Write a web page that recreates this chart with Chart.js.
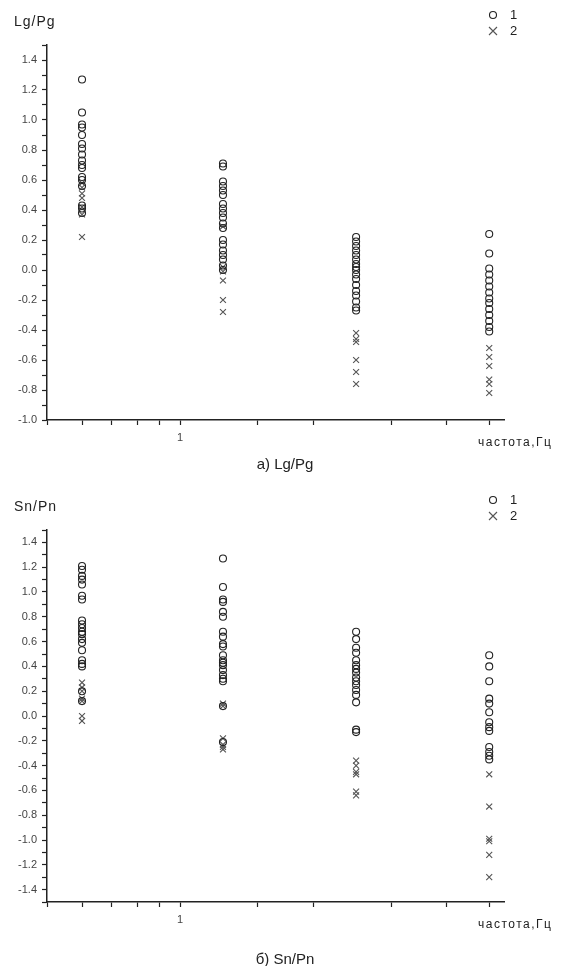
<!DOCTYPE html>
<html>
<head>
<meta charset="utf-8">
<script src="https://cdn.jsdelivr.net/npm/chart.js@4.4.1/dist/chart.umd.min.js"></script>
<style>
  html, body { margin: 0; padding: 0; background: #fff; }
  .panel { position: absolute; left: 0; width: 571px; height: 483px; }
  #panelA { top: 0; }
  #panelB { top: 483px; }
</style>
</head>
<body>
<div class="panel" id="panelA"><canvas id="chartA"></canvas></div>
<div class="panel" id="panelB"><canvas id="chartB"></canvas></div>
<script>
// frequencies of the four measurement columns, Hz
const FREQS = [0.6, 1.25, 2.5, 5];

// а) Lg/Pg — series 1 (circles) and series 2 (crosses), one list per frequency
const lgCircles = [
  [1.27, 1.05, 0.97, 0.95, 0.90, 0.84, 0.81, 0.77, 0.73, 0.70, 0.68, 0.62, 0.60, 0.56, 0.43, 0.41, 0.38],
  [0.71, 0.69, 0.59, 0.56, 0.53, 0.50, 0.44, 0.41, 0.38, 0.35, 0.31, 0.28, 0.20, 0.17, 0.13, 0.10, 0.07, 0.03, 0.00],
  [0.22, 0.19, 0.16, 0.13, 0.10, 0.07, 0.04, 0.02, 0.00, -0.03, -0.06, -0.10, -0.14, -0.17, -0.21, -0.25, -0.27],
  [0.24, 0.11, 0.01, -0.03, -0.07, -0.11, -0.15, -0.19, -0.22, -0.26, -0.30, -0.34, -0.38, -0.41]
];
const lgCrosses = [
  [0.58, 0.55, 0.51, 0.48, 0.42, 0.37, 0.22],
  [0.29, 0.02, -0.01, -0.07, -0.20, -0.28],
  [-0.42, -0.46, -0.48, -0.60, -0.68, -0.76],
  [-0.52, -0.58, -0.64, -0.73, -0.76, -0.82]
];

// б) Sn/Pn
const snCircles = [
  [1.21, 1.18, 1.13, 1.10, 1.06, 0.97, 0.94, 0.77, 0.74, 0.71, 0.68, 0.66, 0.62, 0.59, 0.53, 0.45, 0.42, 0.40, 0.20, 0.12],
  [1.27, 1.04, 0.94, 0.92, 0.84, 0.80, 0.68, 0.64, 0.58, 0.56, 0.49, 0.45, 0.43, 0.41, 0.37, 0.33, 0.30, 0.28, 0.08, -0.21],
  [0.68, 0.62, 0.55, 0.51, 0.45, 0.41, 0.38, 0.35, 0.31, 0.28, 0.25, 0.21, 0.17, 0.11, -0.11, -0.13],
  [0.49, 0.40, 0.28, 0.14, 0.10, 0.03, -0.05, -0.09, -0.12, -0.25, -0.29, -0.32, -0.35]
];
const snCrosses = [
  [0.27, 0.23, 0.20, 0.14, 0.12, 0.00, -0.04],
  [0.10, 0.08, -0.18, -0.23, -0.25, -0.27],
  [-0.36, -0.40, -0.45, -0.47, -0.61, -0.64],
  [-0.47, -0.73, -0.99, -1.01, -1.12, -1.30]
];

const X_MIN = 0.5, X_MAX = 5.4;
const X_TITLE = "частота,Гц";
const SERIES_NAMES = ["1", "2"];

const FONT = "'Liberation Sans', Arial, sans-serif";
const INK = "#222";
const CROSS_INK = "#555";
const TICK_INK = "#444";
const CIRCLE_R = 3.5;
const CROSS_R = 4.2;

function toPoints(cols) {
  const pts = [];
  cols.forEach((vals, i) => vals.forEach(v => pts.push({ x: FREQS[i], y: v })));
  return pts;
}

// y label, legend, x title and caption around the plot
const panelText = {
  id: "panelText",
  afterDraw(chart, args, opts) {
    const ctx = chart.ctx;
    const area = chart.chartArea;
    ctx.save();
    ctx.fillStyle = INK;
    ctx.textBaseline = "middle";

    ctx.font = "14px " + FONT;
    ctx.letterSpacing = "1px";
    ctx.textAlign = "left";
    ctx.fillText(opts.yLabel, 14, area.top - 23);

    // legend: open circle for series 1, cross for series 2
    const lx = 493, ly = area.top - 30;
    ctx.lineWidth = 1.1;
    ctx.strokeStyle = INK;
    ctx.beginPath();
    ctx.arc(lx, ly, CIRCLE_R, 0, Math.PI * 2);
    ctx.stroke();
    ctx.strokeStyle = CROSS_INK;
    const c = 4;
    ctx.beginPath();
    ctx.moveTo(lx - c, ly + 16 - c); ctx.lineTo(lx + c, ly + 16 + c);
    ctx.moveTo(lx - c, ly + 16 + c); ctx.lineTo(lx + c, ly + 16 - c);
    ctx.stroke();
    ctx.font = "13px " + FONT;
    ctx.letterSpacing = "0px";
    ctx.fillText(SERIES_NAMES[0], lx + 17, ly);
    ctx.fillText(SERIES_NAMES[1], lx + 17, ly + 16);

    // axis title
    ctx.font = "12px " + FONT;
    ctx.letterSpacing = "1.5px";
    ctx.fillText(X_TITLE, 478, area.bottom + 23);

    // caption
    ctx.font = "15px " + FONT;
    ctx.letterSpacing = "0px";
    ctx.textAlign = "center";
    ctx.fillText(opts.caption, 285, area.bottom + opts.captionGap);
    ctx.restore();
  }
};

function makeChart(canvasId, circles, crosses, yMin, yMax, text) {
  return new Chart(document.getElementById(canvasId), {
    type: "scatter",
    data: {
      datasets: [
        {
          label: SERIES_NAMES[0],
          data: toPoints(circles),
          pointStyle: "circle",
          pointRadius: CIRCLE_R,
          borderWidth: 1.1,
          borderColor: INK,
          backgroundColor: "rgba(0,0,0,0)"
        },
        {
          label: SERIES_NAMES[1],
          data: toPoints(crosses),
          pointStyle: "crossRot",
          pointRadius: CROSS_R,
          borderWidth: 1.1,
          borderColor: CROSS_INK,
          backgroundColor: CROSS_INK
        }
      ]
    },
    options: {
      responsive: true,
      maintainAspectRatio: false,
      animation: false,
      events: [],
      layout: { padding: { top: text.top, right: 67, left: 0, bottom: 0 } },
      plugins: {
        legend: { display: false },
        tooltip: { enabled: false },
        panelText: text
      },
      scales: {
        x: {
          type: "logarithmic",
          min: X_MIN, max: X_MAX,
          afterBuildTicks: s => { s.ticks = s.ticks.filter(t => t.value >= 0.49 && t.value <= 5.01); },
          afterFit: s => { s.height = text.xHeight; },
          ticks: {
            autoSkip: false, maxRotation: 0, padding: 6,
            color: TICK_INK, font: { size: 11, family: FONT },
            callback: v => (Math.abs(v - 1) < 1e-9 ? "1" : "")
          },
          grid: { drawOnChartArea: false, tickLength: 5, tickColor: INK, tickWidth: 1.2 },
          border: { color: INK, width: 1.5 }
        },
        y: {
          min: yMin, max: yMax,
          afterFit: s => { s.width = 47; },
          ticks: {
            stepSize: 0.1, padding: 5, autoSkip: false,
            color: TICK_INK, font: { size: 11, family: FONT },
            callback: v => {
              const k = Math.round(v * 10);
              if (Math.abs(k) % 2 !== 0 || Math.abs(k) > 14) return "";
              return k === 0 ? "0.0" : (k / 10).toFixed(1);
            }
          },
          grid: { drawOnChartArea: false, tickLength: 5, tickColor: INK, tickWidth: 1.2 },
          border: { color: INK, width: 1.5 }
        }
      }
    },
    plugins: [panelText]
  });
}

makeChart("chartA", lgCircles, lgCrosses, -1.0, 1.5,
  { yLabel: "Lg/Pg", caption: "а) Lg/Pg", top: 45, xHeight: 63, captionGap: 45 });
makeChart("chartB", snCircles, snCrosses, -1.5, 1.5,
  { yLabel: "Sn/Pn", caption: "б) Sn/Pn", top: 47, xHeight: 64, captionGap: 58 });
</script>
</body>
</html>
